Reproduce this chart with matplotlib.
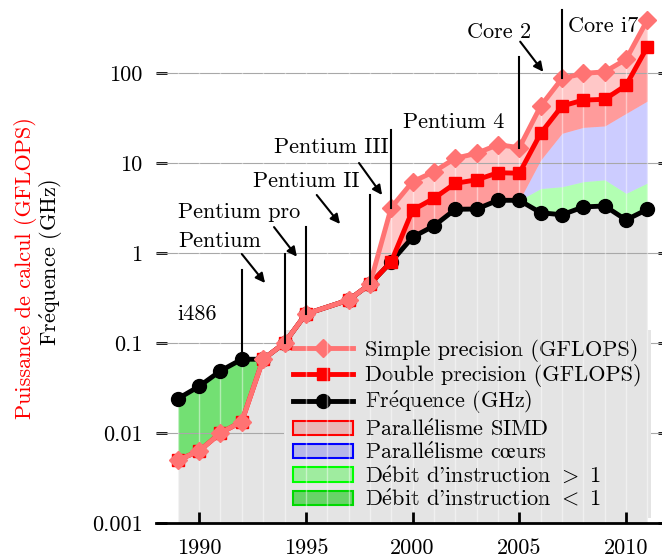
import numpy as np
import matplotlib
matplotlib.use('Agg')
import matplotlib.pyplot as plt
from matplotlib.patches import Patch
from matplotlib.lines import Line2D

plt.rcParams['font.family'] = ['cmr10', 'DejaVu Serif']
plt.rcParams['mathtext.fontset'] = 'cm'
plt.rcParams['axes.unicode_minus'] = False

# processor generations (1996 has no point)
years = [1989, 1990, 1991, 1992, 1993, 1994, 1995, 1997, 1998, 1999, 2000,
         2001, 2002, 2003, 2004, 2005, 2006, 2007, 2008, 2009, 2010, 2011]
single_prec = [0.005, 0.0063, 0.01, 0.0134, 0.066, 0.1, 0.21, 0.3, 0.45, 3.2, 6.2,
               8.0, 11.3, 12.8, 16.0, 14.8, 43, 87, 99, 103, 142, 390]
double_prec = [0.005, 0.0063, 0.01, 0.0134, 0.066, 0.1, 0.21, 0.3, 0.45, 0.8, 3.0,
               4.05, 5.95, 6.5, 7.8, 7.7, 21.4, 43, 50, 51, 73, 196]
frequency = [0.024, 0.033, 0.049, 0.066, 0.066, 0.1, 0.21, 0.3, 0.45, 0.8, 1.5,
             2.0, 3.06, 3.08, 3.85, 3.85, 2.8, 2.66, 3.25, 3.33, 2.33, 3.06]

# multicore era: top of "IPC > 1" band and top of "cores" band
years_mc = [2005, 2006, 2007, 2008, 2009, 2010, 2011]
ipc_top = [3.85, 5.2, 5.45, 6.2, 6.5, 4.6, 6.0]
cores_top = [3.85, 10.8, 21.4, 24.9, 25.8, 35.6, 48.9]

# annotations: vertical markers (year, bottom, top)
marker_years = [1992, 1994, 1995, 1998, 1999, 2005, 2007]
marker_bottom = [0.066, 0.1, 0.21, 0.45, 3.2, 14.8, 87]
marker_top = [0.65, 0.98, 1.95, 4.4, 23, 150, 500]

labels = ['i486', 'Pentium', 'Pentium pro', 'Pentium II', 'Pentium III',
          'Pentium 4', 'Core 2', 'Core i7']
label_x = [1988.97, 1989.02, 1989.02, 1992.51, 1993.51, 1999.54, 2002.54, 2007.28]
label_y = [0.18, 1.17, 2.43, 5.45, 12.8, 24.3, 243, 288]

# arrows: (x0, y0) -> (x1, y1)
arrow_from = [(1992.0, 0.975), (1993.51, 1.94), (1995.51, 4.41), (1997.49, 10.0), (2005.04, 223)]
arrow_to = [(1993.09, 0.464), (1994.58, 0.91), (1996.6, 2.1), (1998.57, 4.41), (2006.12, 103)]

GREY = '#e4e4e4'
SP_COLOR = '#ff7373'
E_ACUTE = r'$\mathrm{\acute{e}}$'


def main():
    fig = plt.figure(figsize=(6.62, 5.59), dpi=100)
    ax = fig.add_axes([156.4 / 662, 36 / 559, 512.4 / 662, 523 / 559])

    yrs = np.array(years, dtype=float)
    sp = np.array(single_prec)
    dp = np.array(double_prec)
    fr = np.array(frequency)

    # lower bound of the SIMD region: frequency, or top of the cores band
    simd_low = fr.copy()
    for y, c in zip(years_mc, cores_top):
        simd_low[years.index(y)] = c
    simd = yrs >= 1998

    ax.fill_between(yrs, 1e-3, np.minimum(fr, dp), color=GREY, lw=0, zorder=1)
    ax.fill_between(yrs, dp, fr, where=fr >= dp, interpolate=True,
                    color=(0, 0.78, 0), alpha=0.55, lw=0, zorder=1)
    ax.fill_between(years_mc, frequency[-7:], ipc_top, color=(0, 1, 0), alpha=0.3, lw=0, zorder=1)
    ax.fill_between(years_mc, ipc_top, cores_top, color='blue', alpha=0.2, lw=0, zorder=1)
    ax.fill_between(yrs[simd], simd_low[simd], sp[simd], color='red', alpha=0.22, lw=0, zorder=1)
    ax.fill_between(yrs[simd], simd_low[simd], dp[simd], color='red', alpha=0.22, lw=0, zorder=1)

    ax.set_yscale('log')
    ax.set_xlim(1988, 2012)
    ax.set_ylim(1e-3, 10 ** (2 + 73 / 90))

    for v in [1e-3, 1e-2, 1e-1, 1, 10, 100]:
        ax.axhline(v, color='#a8a8a8', lw=0.8, zorder=2)
    for y in range(1989, 2012):
        ax.axvline(y, color='white', lw=1.0, alpha=0.45, zorder=6)

    ax.plot(yrs, fr, color='black', lw=3.5, marker='o', ms=10, zorder=8)
    ax.plot(yrs, dp, color='red', lw=3.5, marker='s', ms=9, zorder=9)
    ax.plot(yrs, sp, color=SP_COLOR, lw=3.5, marker='D', ms=9, zorder=10, clip_on=False)

    for x, b, t in zip(marker_years, marker_bottom, marker_top):
        ax.plot([x, x], [b, t], color='black', lw=1.5, zorder=11)
    for s, x, y in zip(labels, label_x, label_y):
        ax.text(x, y, s, fontsize=16, ha='left', va='baseline', zorder=12)
    for a, b in zip(arrow_from, arrow_to):
        ax.annotate('', xy=b, xytext=a, zorder=12,
                    arrowprops=dict(arrowstyle='-|>', color='black', lw=1.5,
                                    mutation_scale=14, shrinkA=0, shrinkB=0))

    for sp_name in ['left', 'right', 'top']:
        ax.spines[sp_name].set_visible(False)
    ax.spines['bottom'].set_linewidth(2)
    ax.spines['bottom'].set_zorder(12)

    ax.set_yticks([1e-3, 1e-2, 1e-1, 1, 10, 100])
    ax.set_yticklabels(['0.001', '0.01', '0.1', '1', '10', '100'])
    ax.minorticks_off()
    ax.set_xticks([1990, 1995, 2000, 2005, 2010])
    ax.set_xticklabels(['1990', '1995', '2000', '2005', '2010'])
    ax.tick_params(axis='both', direction='in', length=8, width=2, labelsize=16)
    ax.tick_params(axis='y', right=True, pad=10)
    ax.tick_params(axis='x', pad=11)
    ax.xaxis.set_zorder(12)
    ax.set_facecolor('none')

    fig.text(26 / 662, 1 - 268 / 559, 'Puissance de calcul (GFLOPS)', color='red',
             rotation=90, fontsize=16, ha='center', va='center')
    fig.text(51 / 662, 1 - 262 / 559, 'Fr' + E_ACUTE + 'quence (GHz)', color='black',
             rotation=90, fontsize=16, ha='center', va='center')

    handles = [
        Line2D([], [], color=SP_COLOR, lw=3.5, marker='D', ms=9),
        Line2D([], [], color='red', lw=3.5, marker='s', ms=9),
        Line2D([], [], color='black', lw=3.5, marker='o', ms=10),
        Patch(facecolor=(1, 0, 0, 0.2), edgecolor='red', lw=1.5),
        Patch(facecolor=(0, 0, 1, 0.2), edgecolor='blue', lw=1.5),
        Patch(facecolor=(0, 1, 0, 0.3), edgecolor=(0, 1, 0), lw=1.5),
        Patch(facecolor=(0, 0.78, 0, 0.55), edgecolor=(0, 0.85, 0), lw=1.5),
    ]
    names = ['Simple precision (GFLOPS)', 'Double precision (GFLOPS)',
             'Fr' + E_ACUTE + 'quence (GHz)',
             'Parall' + E_ACUTE + 'lisme SIMD', 'Parall' + E_ACUTE + r'lisme c$\mathrm{\oe}$urs',
             'D' + E_ACUTE + 'bit d\'instruction $>$ 1', 'D' + E_ACUTE + 'bit d\'instruction $<$ 1']
    leg = ax.legend(handles, names, loc='upper left', bbox_to_anchor=(284 / 662, 1 - 330 / 559),
                    bbox_transform=fig.transFigure,
                    fontsize=16, frameon=True, facecolor=GREY, edgecolor='none', framealpha=1,
                    fancybox=False, borderpad=0.4, borderaxespad=0, handlelength=2.7,
                    handletextpad=0.55, labelspacing=0.1, handleheight=0.6, numpoints=1)
    leg.set_zorder(5)

    fig.savefig('out.png', dpi=100)


if __name__ == '__main__':
    main()
